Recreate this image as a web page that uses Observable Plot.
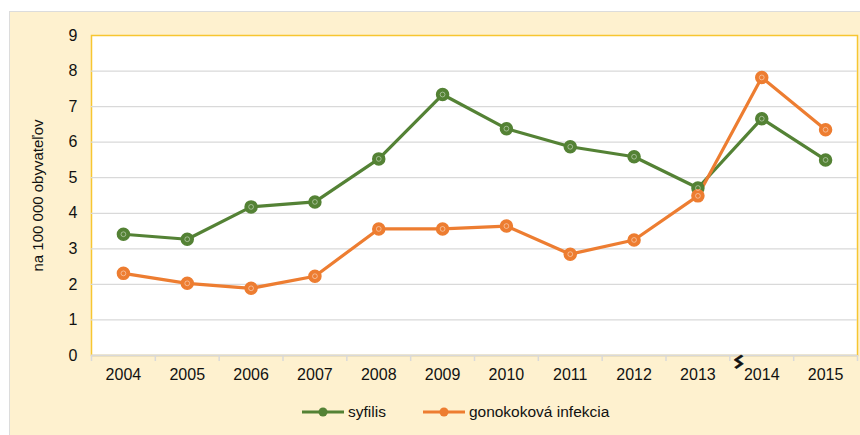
<!DOCTYPE html>
<html>
<head>
<meta charset="utf-8">
<script src="https://cdn.jsdelivr.net/npm/d3@7"></script>
<script src="https://cdn.jsdelivr.net/npm/@observablehq/plot@0.6"></script>
<style>
  html, body { margin: 0; padding: 0; background: #ffffff; }
  body { width: 860px; height: 435px; position: relative; overflow: hidden; font-family: "Liberation Sans", Arial, sans-serif; }
  #box { position: absolute; left: 9px; top: 11px; width: 851px; height: 424px; background: #fef1cf; border-left: 1px solid #dcdcdc; border-top: 1px solid #dcdcdc; box-sizing: border-box; }
  #chart { position: absolute; left: 0; top: 0; }
  #legend { position: absolute; left: 291px; top: 391px; display: flex; align-items: center; font-size: 15.5px; color: #111; }
  .item { display: flex; align-items: center; margin-right: 36px; }
  .item svg { margin-right: 3px; }
</style>
</head>
<body>
<div id="box">
  <div id="chart"></div>
  <div id="legend"></div>
</div>
<script>
const years = [2004, 2005, 2006, 2007, 2008, 2009, 2010, 2011, 2012, 2013, 2014, 2015];
const syfilis = [3.41, 3.27, 4.18, 4.32, 5.53, 7.34, 6.38, 5.87, 5.59, 4.71, 6.66, 5.50];
const gonokok = [2.31, 2.03, 1.89, 2.23, 3.56, 3.56, 3.64, 2.85, 3.25, 4.49, 7.82, 6.35];
const seriesNames = ["syfilis", "gonokoková infekcia"];
const seriesColors = ["#548235", "#ed7d31"];
const yTicks = [0, 1, 2, 3, 4, 5, 6, 7, 8, 9];
const yLabel = "na 100 000 obyvateľov";
const breakYear = 2014;

const rows = [];
years.forEach((y, i) => {
  rows.push({year: y, value: syfilis[i], series: seriesNames[0]});
  rows.push({year: y, value: gonokok[i], series: seriesNames[1]});
});
const boundaries = [...years.map(y => y - 0.5), years[years.length - 1] + 0.5];

const chart = Plot.plot({
  width: 850,
  height: 382,
  marginLeft: 81,
  marginRight: 3,
  marginTop: 23,
  marginBottom: 39,
  style: {fontFamily: "Liberation Sans, Arial, sans-serif", fontSize: "16px", background: "transparent", color: "#111", overflow: "visible"},
  x: {type: "linear", domain: [years[0] - 0.5, years[years.length - 1] + 0.5]},
  y: {domain: [0, 9]},
  color: {domain: seriesNames, range: seriesColors},
  marks: [
    Plot.frame({fill: "white", stroke: "#f7c631", strokeWidth: 1.5}),
    Plot.ruleY(yTicks.filter(t => t > 0 && t < 9), {stroke: "#d9d9d9", strokeWidth: 1.2}),
    Plot.ruleY([0], {stroke: "#d9d9d9", strokeWidth: 2}),
    Plot.axisY({ticks: yTicks, tickSize: 0, tickPadding: 14, label: null, fill: "#111", fontSize: 16}),
    Plot.text([yLabel], {frameAnchor: "left", rotate: -90, textAnchor: "middle", dx: -53, dy: 0, fontSize: 15, fill: "#111"}),
    Plot.axisX({ticks: boundaries, tickSize: 6, tickFormat: () => "", stroke: "#d9d9d9", strokeWidth: 1.5, label: null}),
    Plot.axisX({ticks: years, tickSize: 0, tickPadding: 13, tickFormat: d => String(d), label: null, fill: "#111", fontSize: 16}),
    Plot.text([breakYear], {x: d => d, frameAnchor: "bottom", text: () => "ϟ", dx: -27, dy: 12, rotate: 35, fontSize: 19, fontWeight: "bold", fill: "#111", stroke: "#111", strokeWidth: 0.7}),
    Plot.line(rows, {x: "year", y: "value", stroke: "series", z: "series", strokeWidth: 3.2}),
    Plot.dot(rows, {x: "year", y: "value", fill: "series", stroke: "series", r: 6}),
    Plot.dot(rows, {x: "year", y: "value", stroke: "white", strokeOpacity: 0.55, strokeWidth: 0.8, r: 2.4})
  ]
});
document.getElementById("chart").appendChild(chart);

const legend = document.getElementById("legend");
seriesNames.forEach((name, i) => {
  const item = document.createElement("div");
  item.className = "item";
  item.innerHTML = `<svg width="44" height="12"><line x1="1" y1="6" x2="43" y2="6" stroke="${seriesColors[i]}" stroke-width="3.2"/><circle cx="22" cy="6" r="4.5" fill="${seriesColors[i]}"/></svg><span>${name}</span>`;
  legend.appendChild(item);
});
</script>
</body>
</html>
